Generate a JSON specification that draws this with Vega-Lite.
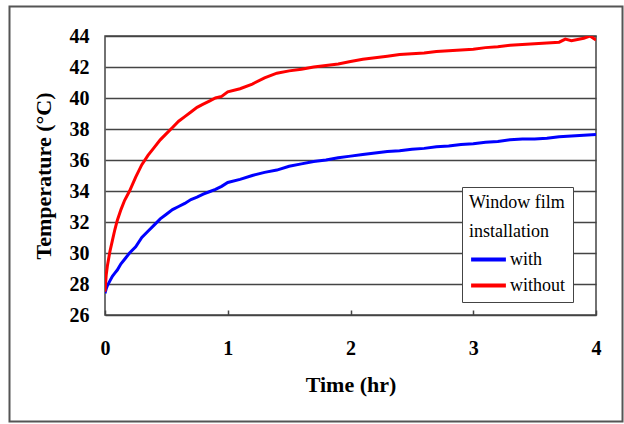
{
  "$schema": "https://vega.github.io/schema/vega-lite/v6.json",
  "autosize": "none",
  "width": 491,
  "height": 279,
  "padding": {"left": 105, "top": 36, "right": 28, "bottom": 109},
  "background": "white",
  "config": {
    "font": "Liberation Serif",
    "view": {"stroke": "#444", "strokeWidth": 1.5},
    "axis": {"labelFont": "Liberation Serif", "titleFont": "Liberation Serif", "labelColor": "black", "titleColor": "black"},
    "axisX": {
      "grid": false, "domain": false, "ticks": true, "tickSize": -5, "tickColor": "#444", "tickWidth": 1.5,
      "labelFontSize": 20, "labelFontWeight": "bold", "labelPadding": 28, "labelFlush": false, "labelOverlap": false,
      "titleFontSize": 22, "titleFontWeight": "bold", "titlePadding": 16
    },
    "axisY": {
      "grid": true, "gridColor": "#444", "gridWidth": 1.5, "gridOpacity": 1,
      "domain": false, "ticks": false,
      "labelFontSize": 20, "labelFontWeight": "bold", "labelPadding": 16, "labelOverlap": false, "labelFlush": false,
      "titleFontSize": 22, "titleFontWeight": "bold", "titlePadding": 14
    }
  },
  "datasets": {
    "series": [
      {"t": 0, "v": 27.4, "s": "with"},
      {"t": 0.01, "v": 27.7, "s": "with"},
      {"t": 0.02, "v": 27.9, "s": "with"},
      {"t": 0.04, "v": 28.2, "s": "with"},
      {"t": 0.06, "v": 28.5, "s": "with"},
      {"t": 0.08, "v": 28.7, "s": "with"},
      {"t": 0.1, "v": 28.9, "s": "with"},
      {"t": 0.13, "v": 29.3, "s": "with"},
      {"t": 0.16, "v": 29.6, "s": "with"},
      {"t": 0.2, "v": 30.0, "s": "with"},
      {"t": 0.25, "v": 30.4, "s": "with"},
      {"t": 0.3, "v": 31.0, "s": "with"},
      {"t": 0.35, "v": 31.4, "s": "with"},
      {"t": 0.4, "v": 31.8, "s": "with"},
      {"t": 0.45, "v": 32.2, "s": "with"},
      {"t": 0.5, "v": 32.5, "s": "with"},
      {"t": 0.55, "v": 32.8, "s": "with"},
      {"t": 0.6, "v": 33.0, "s": "with"},
      {"t": 0.65, "v": 33.2, "s": "with"},
      {"t": 0.7, "v": 33.45, "s": "with"},
      {"t": 0.75, "v": 33.6, "s": "with"},
      {"t": 0.8, "v": 33.8, "s": "with"},
      {"t": 0.85, "v": 33.95, "s": "with"},
      {"t": 0.9, "v": 34.1, "s": "with"},
      {"t": 0.95, "v": 34.3, "s": "with"},
      {"t": 1.0, "v": 34.55, "s": "with"},
      {"t": 1.1, "v": 34.75, "s": "with"},
      {"t": 1.2, "v": 35.0, "s": "with"},
      {"t": 1.3, "v": 35.2, "s": "with"},
      {"t": 1.4, "v": 35.35, "s": "with"},
      {"t": 1.5, "v": 35.6, "s": "with"},
      {"t": 1.6, "v": 35.75, "s": "with"},
      {"t": 1.7, "v": 35.9, "s": "with"},
      {"t": 1.8, "v": 36.0, "s": "with"},
      {"t": 1.9, "v": 36.15, "s": "with"},
      {"t": 2.0, "v": 36.25, "s": "with"},
      {"t": 2.1, "v": 36.35, "s": "with"},
      {"t": 2.2, "v": 36.45, "s": "with"},
      {"t": 2.3, "v": 36.55, "s": "with"},
      {"t": 2.4, "v": 36.6, "s": "with"},
      {"t": 2.5, "v": 36.7, "s": "with"},
      {"t": 2.6, "v": 36.75, "s": "with"},
      {"t": 2.7, "v": 36.85, "s": "with"},
      {"t": 2.8, "v": 36.9, "s": "with"},
      {"t": 2.9, "v": 37.0, "s": "with"},
      {"t": 3.0, "v": 37.05, "s": "with"},
      {"t": 3.1, "v": 37.15, "s": "with"},
      {"t": 3.2, "v": 37.2, "s": "with"},
      {"t": 3.3, "v": 37.3, "s": "with"},
      {"t": 3.4, "v": 37.35, "s": "with"},
      {"t": 3.5, "v": 37.35, "s": "with"},
      {"t": 3.6, "v": 37.4, "s": "with"},
      {"t": 3.7, "v": 37.5, "s": "with"},
      {"t": 3.8, "v": 37.55, "s": "with"},
      {"t": 3.9, "v": 37.6, "s": "with"},
      {"t": 4.0, "v": 37.65, "s": "with"},
      {"t": 0, "v": 27.5, "s": "without"},
      {"t": 0.01, "v": 28.6, "s": "without"},
      {"t": 0.02, "v": 29.2, "s": "without"},
      {"t": 0.04, "v": 30.1, "s": "without"},
      {"t": 0.06, "v": 30.8, "s": "without"},
      {"t": 0.08, "v": 31.5, "s": "without"},
      {"t": 0.1, "v": 32.1, "s": "without"},
      {"t": 0.13, "v": 32.8, "s": "without"},
      {"t": 0.16, "v": 33.4, "s": "without"},
      {"t": 0.2, "v": 34.0, "s": "without"},
      {"t": 0.25, "v": 34.9, "s": "without"},
      {"t": 0.3, "v": 35.7, "s": "without"},
      {"t": 0.35, "v": 36.3, "s": "without"},
      {"t": 0.4, "v": 36.8, "s": "without"},
      {"t": 0.45, "v": 37.3, "s": "without"},
      {"t": 0.5, "v": 37.7, "s": "without"},
      {"t": 0.55, "v": 38.1, "s": "without"},
      {"t": 0.6, "v": 38.5, "s": "without"},
      {"t": 0.65, "v": 38.8, "s": "without"},
      {"t": 0.7, "v": 39.1, "s": "without"},
      {"t": 0.75, "v": 39.4, "s": "without"},
      {"t": 0.8, "v": 39.6, "s": "without"},
      {"t": 0.85, "v": 39.8, "s": "without"},
      {"t": 0.9, "v": 40.0, "s": "without"},
      {"t": 0.95, "v": 40.1, "s": "without"},
      {"t": 1.0, "v": 40.4, "s": "without"},
      {"t": 1.1, "v": 40.6, "s": "without"},
      {"t": 1.2, "v": 40.9, "s": "without"},
      {"t": 1.3, "v": 41.3, "s": "without"},
      {"t": 1.4, "v": 41.6, "s": "without"},
      {"t": 1.5, "v": 41.75, "s": "without"},
      {"t": 1.6, "v": 41.85, "s": "without"},
      {"t": 1.7, "v": 42.0, "s": "without"},
      {"t": 1.8, "v": 42.1, "s": "without"},
      {"t": 1.9, "v": 42.2, "s": "without"},
      {"t": 2.0, "v": 42.35, "s": "without"},
      {"t": 2.1, "v": 42.5, "s": "without"},
      {"t": 2.2, "v": 42.6, "s": "without"},
      {"t": 2.3, "v": 42.7, "s": "without"},
      {"t": 2.4, "v": 42.8, "s": "without"},
      {"t": 2.5, "v": 42.85, "s": "without"},
      {"t": 2.6, "v": 42.9, "s": "without"},
      {"t": 2.7, "v": 43.0, "s": "without"},
      {"t": 2.8, "v": 43.05, "s": "without"},
      {"t": 2.9, "v": 43.1, "s": "without"},
      {"t": 3.0, "v": 43.15, "s": "without"},
      {"t": 3.1, "v": 43.25, "s": "without"},
      {"t": 3.2, "v": 43.3, "s": "without"},
      {"t": 3.3, "v": 43.4, "s": "without"},
      {"t": 3.4, "v": 43.45, "s": "without"},
      {"t": 3.5, "v": 43.5, "s": "without"},
      {"t": 3.6, "v": 43.55, "s": "without"},
      {"t": 3.7, "v": 43.6, "s": "without"},
      {"t": 3.75, "v": 43.8, "s": "without"},
      {"t": 3.8, "v": 43.7, "s": "without"},
      {"t": 3.9, "v": 43.85, "s": "without"},
      {"t": 3.95, "v": 44.0, "s": "without"},
      {"t": 4.0, "v": 43.75, "s": "without"}
    ]
  },
  "layer": [
    {
      "data": {"name": "series"},
      "mark": {"type": "line", "strokeWidth": 3, "clip": true},
      "encoding": {
        "x": {
          "field": "t", "type": "quantitative", "title": "Time (hr)",
          "scale": {"domain": [0, 4], "nice": false, "zero": false},
          "axis": {"values": [0, 1, 2, 3, 4], "format": "d"}
        },
        "y": {
          "field": "v", "type": "quantitative", "title": "Temperature (°C)",
          "scale": {"domain": [26, 44], "nice": false, "zero": false},
          "axis": {"values": [26, 28, 30, 32, 34, 36, 38, 40, 42, 44]}
        },
        "color": {
          "field": "s", "type": "nominal",
          "scale": {"domain": ["with", "without"], "range": ["#0000FF", "#FF0000"]},
          "legend": {
            "title": ["Window film", "installation"],
            "orient": "none", "legendX": 357, "legendY": 151,
            "strokeColor": "#444", "fillColor": "white", "padding": 7,
            "titleFont": "Liberation Serif", "titleFontSize": 18, "titleFontWeight": "normal", "titleColor": "black",
            "titleLineHeight": 29, "titlePadding": 2,
            "labelFont": "Liberation Serif", "labelFontSize": 18, "labelColor": "black",
            "symbolType": "M-1.2,0H1.2", "symbolSize": 841, "symbolStrokeWidth": 4, "symbolOffset": 3,
            "labelOffset": 5, "rowPadding": 0
          }
        }
      }
    },
    {
      "data": {"values": [{"frame": "outer"}]},
      "mark": {"type": "rect", "filled": false, "stroke": "#555", "strokeWidth": 2, "clip": false},
      "encoding": {
        "x": {"datum": -0.778, "type": "quantitative", "title": "Time (hr)",
          "axis": {"values": [0, 1, 2, 3, 4], "format": "d"}},
        "x2": {"datum": 4.216},
        "y": {"datum": 45.9, "type": "quantitative", "title": "Temperature (°C)",
          "axis": {"values": [26, 28, 30, 32, 34, 36, 38, 40, 42, 44]}},
        "y2": {"datum": 19.13}
      }
    }
  ]
}
